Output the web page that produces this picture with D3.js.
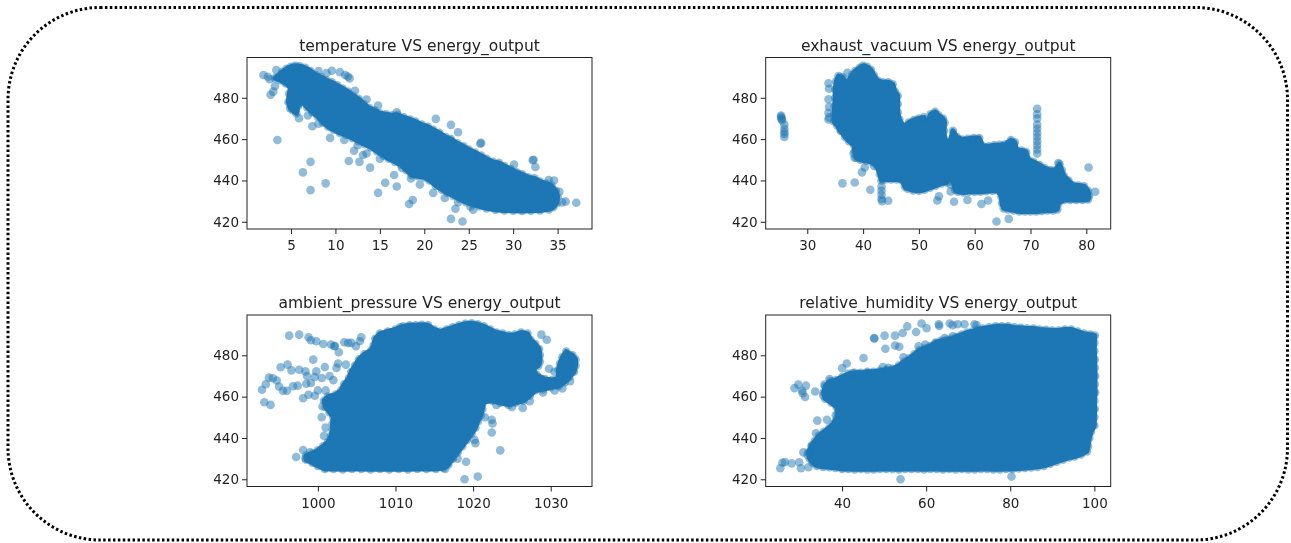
<!DOCTYPE html>
<html>
<head>
<meta charset="utf-8">
<script src="https://cdn.jsdelivr.net/npm/d3@7"></script>
<style>
body { margin: 0; background: white; }
svg { display: block; }
text { font-family: "DejaVu Sans", sans-serif; fill: #222; }
</style>
</head>
<body>
<script>
var titles = ["temperature VS energy_output", "exhaust_vacuum VS energy_output", "ambient_pressure VS energy_output", "relative_humidity VS energy_output"];
var energyDomain = [416.5, 499.5];
var energyTicks = [420, 440, 460, 480];
var tempDomain = [0.05, 38.87];
var tempTicks = [5, 10, 15, 20, 25, 30, 35];
var vacuumDomain = [22.55, 84.37];
var vacuumTicks = [30, 40, 50, 60, 70, 80];
var pressureDomain = [990.87, 1035.32];
var pressureTicks = [1000, 1010, 1020, 1030];
var humidityDomain = [21.83, 103.89];
var humidityTicks = [40, 60, 80, 100];

// points around the rim of each saturated area, in order: the inside of the ring
// is filled solid because single points can't be told apart there
var tempRim = [[4,492.5],[4.5,494],[5,495],[5.5,495.5],[6,495.3],[6.6,494.5],[7.2,493],[7.8,491],[8.4,490],[9,488.5],[9.6,487.5],[10.2,486],[10.8,484.5],[11.4,483],[12,481],[12.6,479.5],[13.2,477],[13.8,475],[14.4,474],[15,472.5],[15.7,472],[16.4,471.5],[17,471.8],[17.7,470.5],[18.4,469.5],[19,468.5],[19.7,467],[20.4,466],[21,464.5],[21.7,463],[22.4,461],[23,460],[23.7,458],[24.4,456.5],[25,455],[25.7,453.5],[26.4,452],[27,450.5],[27.7,449],[28.4,448.5],[29,447],[29.7,445.5],[30.4,444],[31,443],[31.7,441.5],[32.4,441],[33,439.5],[33.7,438.5],[34.3,437.5],[34.8,435],[35,432],[34.9,429],[34.5,427],[34,426],[33,425.5],[32,425.3],[31,425.2],[30,425.3],[29,425.5],[28,425.8],[27,426.5],[26.2,427.5],[25.4,428.5],[24.7,429.5],[24,431],[23.3,432.5],[22.6,434],[22,435.5],[21.3,437.5],[20.6,440],[20,441.5],[19.3,442],[18.6,442.5],[18,445],[17.4,447.5],[16.7,449],[16,450.5],[15.4,452],[14.7,454],[14,456],[13.3,457.5],[12.6,459],[11.9,460.5],[11.2,462],[10.5,463],[9.8,464.5],[9.2,466],[8.6,468],[8,471],[7.4,473],[6.8,475.5],[6.3,478],[5.8,476],[5.6,472.5],[5.2,474],[4.9,475],[4.7,478],[4.8,482],[5,485],[4.4,487],[3.8,488.5],[3.2,489.5]];
var vacuumRim = [[34.8,468.5],[34.8,472],[34.9,476],[35,480],[35,484],[35.2,488],[35.6,490.5],[36.3,490],[36.9,487],[37.5,488.5],[38,491],[38.6,493],[39.4,494.5],[40,495.5],[40.7,495],[41.4,493.5],[41.9,491],[42.5,488.5],[43.5,487.5],[44.5,487.5],[45.3,486.5],[45.7,483],[46.2,481],[46.2,477],[46.2,473],[46.5,469.5],[47.3,466],[48.2,468],[49.1,469.2],[50,470],[50.9,470.5],[51.5,467],[52.1,472],[52.9,473.2],[53.5,471.5],[54.3,470],[54.6,468],[54.5,464],[54.6,460],[55.5,458],[56.1,464],[56.8,461],[57.7,459.8],[58.8,460.2],[59.8,460.5],[60.8,460.5],[61.5,456.5],[62.5,456.5],[63.5,457],[64.5,457.2],[65.5,457.5],[66.5,459.5],[67.2,458.5],[67.5,454.5],[68.4,454.5],[69.2,453.8],[69.6,450],[70.5,449],[71.6,447.5],[72.5,446],[73.5,445],[74.5,445],[75.2,447.8],[75.6,445],[76,442],[76.8,440],[77.6,437.8],[78.6,437.5],[79.6,437.2],[80.3,435],[80.5,432.5],[80.3,430.8],[79.3,430.5],[78.2,430.6],[77.1,430.5],[76,430.5],[75,429],[74.8,426],[74,425.5],[73,425.5],[72,425.2],[71,425],[70,425],[69,425],[68,425],[67,425.5],[66,426],[65.2,426.5],[64.9,429],[64.8,432],[64.2,435],[63.2,435],[62,434.8],[61,434.5],[60,434.5],[59,434.5],[58,434.2],[57,434.5],[56.5,435.5],[56.2,439],[55.5,442],[55,439],[54,438.5],[53,437.5],[52,436.5],[51,435.5],[50,435],[49,435.2],[48,436],[47.5,437],[47,440],[46,440.5],[45,440.5],[44,440.5],[43.3,440],[43,443],[42.6,446.5],[41.5,449],[40.5,449.5],[39.5,450],[38.8,451],[38.5,454],[38.4,457],[37.5,459],[36.8,461],[36,464],[35.4,466.5]];
var pressureRim = [[998.5,431.5],[999.3,432.5],[1000,434],[1000.7,436],[1001.3,438],[1001.7,441],[1001.9,444],[1001.9,447],[1002,450],[1001.5,452.5],[1001,455],[1000.8,458],[1001.3,460],[1002.3,461],[1003,463],[1003.4,466],[1004,469],[1004.3,472],[1004.8,475],[1005.3,478],[1006,480.5],[1006.9,482.5],[1007.2,485],[1007.4,488],[1008,490.5],[1009,491.5],[1010,492.5],[1010.6,493.5],[1011,494],[1011.8,494.5],[1012.6,494.5],[1013.4,494.8],[1014.2,494.5],[1015,492.5],[1015.8,491.5],[1016.6,492.5],[1017.4,493.5],[1018.2,494.5],[1019,495.3],[1019.8,495.5],[1020.6,495],[1021.4,494],[1022.2,492.5],[1023,491],[1023.8,490.5],[1024.6,489.7],[1025.4,490],[1026.2,491],[1027,490.5],[1027.4,487.5],[1028,485.5],[1028.5,483],[1028.6,480],[1028.6,477],[1028.4,475],[1027.7,473.5],[1028.2,470.5],[1029.2,468.5],[1030.2,468],[1031,469],[1031,473],[1031.2,476],[1031.5,479],[1032,481.8],[1032.8,480],[1033.2,478],[1033.2,475],[1033,472],[1032.4,469.5],[1031.8,467],[1031,465],[1030,464.5],[1029,463.5],[1028,463],[1027.3,460.5],[1026.5,458],[1025.5,457],[1024.6,456],[1023.5,457],[1022.5,458],[1021.4,457.5],[1021.2,454],[1021,451],[1020.6,448],[1020.3,445],[1019.8,442],[1019.2,439],[1018.6,436],[1018,433],[1017.4,430],[1016.8,427],[1016.2,425.5],[1015.2,425],[1014,425],[1012.8,425],[1011.6,424.8],[1010.4,425],[1009.2,424.8],[1008,425],[1006.8,424.8],[1005.6,425],[1004.4,425],[1003.2,424.8],[1002,425],[1000.9,425],[1000,426.5],[999.3,428],[998.5,429.5]];
var humidityRim = [[32,433],[32.7,436],[33.5,438.5],[34.5,441],[35.7,443],[37,445],[38,447],[38.8,449.5],[39,452],[38.7,455],[37.5,457],[36,459],[35.6,462],[36,465],[37.2,467.5],[38.5,468],[40,469.5],[41.5,471],[43,471.5],[44.5,471.5],[46,472],[47.5,472],[49,472.5],[50.5,473],[52,473.5],[53.5,475],[54.8,477],[56,478.5],[57.2,480.5],[58.4,482.5],[59.8,483.5],[61,484.5],[62.2,486],[63.5,487],[64.8,487.5],[66,488],[67.2,489],[68.5,490],[69.8,491],[71,491.5],[72.2,492.5],[73.5,493],[75,493.5],[76.5,494],[78,494],[79.5,494],[81,493.5],[82.5,493.3],[84,493],[85.5,493],[87,492.5],[88.5,492.3],[90,492],[91.5,492],[93,492.5],[94.5,492.5],[96,491.5],[97.5,490.5],[99,490],[100.1,489.5],[100,486],[100,482],[100.1,478],[100.1,474],[100.2,470],[100.1,466],[100.2,462],[100,458],[100.1,454],[100,450],[100,446],[99.2,443],[98.8,440],[98.5,436],[98.2,433.5],[96.8,432],[95.3,431],[94,430.5],[92.5,429.5],[91,428.5],[89.5,427.5],[88,426.5],[86.5,426],[85,425.7],[83.5,425.5],[82,425.2],[80.5,425],[79,425],[77.5,424.8],[76,424.8],[74.5,425],[73,425],[71.5,424.8],[70,424.8],[68.5,425],[67,424.8],[65.5,425],[64,424.8],[62.5,425],[61,425],[59.5,424.8],[58,425],[56.5,425],[55,425],[53.5,424.8],[52,425],[50.5,425],[49,425],[47.5,424.8],[46,424.8],[44.5,425],[43,424.8],[41.5,425],[40,425],[38.5,425.5],[37,425.8],[35.5,426],[34,426.5],[33,428],[32.3,430]];

// points standing apart from those areas
var tempPoints = [[1.9,491],[2.4,490.2],[3.35,493.4],[2.7,481.5],[3,483],[3.2,485.6],[2.6,489],[3.47,459.6],[6.34,443.9],[7.2,449],[7.2,435.3],[8.9,438.6],[5.9,470.1],[6.9,471.4],[7.4,466.2],[8.1,467.5],[9.4,460.6],[11,459.6],[11.5,449.4],[12.1,454.4],[12.7,449],[13.1,452.3],[13.9,446.2],[14.8,434],[15.6,438.9],[16.6,442.6],[16.9,437.1],[18.3,428.6],[18.7,430.5],[23,421.4],[23.5,426.3],[24.3,420.1],[23,466.9],[23.8,463.3],[21.3,469.8],[26.4,458.2],[26.3,457.8],[32.3,450],[32.2,449.8],[32.5,446.5],[37.1,429.2],[35.9,429.8],[35.5,429.4],[35.2,434.5],[34.6,440],[34,440.2],[10.5,492.4],[9.6,493.1],[11.1,491],[11.6,489.4],[11.4,490.3],[9,492],[8.1,493],[12.2,483.4],[13.5,479.2],[14.8,476.3],[16.9,473],[30.1,447.7],[12.5,457],[13.5,453],[15,450.5],[17.5,446],[18.5,441],[19.5,438],[21,434],[22.3,431.5],[23.8,429.5],[25.2,427.3],[25.5,425.8]];
var vacuumPoints = [[25.3,471.4],[25.3,470.8],[25.4,470.2],[25.4,469.6],[25.5,469],[25.9,467],[25.9,465],[25.9,463.5],[25.9,462.5],[25.9,461],[33.8,487],[33.9,484.4],[33.8,479.3],[33.9,475.6],[33.8,472.7],[33.9,470.5],[33.8,469.5],[37.2,492.1],[71.2,474.7],[71.2,472],[71.2,470],[71.2,467],[71.2,465],[71.2,463],[71.2,461],[71.2,459],[71.2,457],[71.2,455],[71.2,453],[43.3,437],[43.3,435],[43.3,433],[43.3,431],[43.4,430],[44.5,430.2],[80.4,446.3],[81.6,434.5],[63.9,420.1],[66.1,421.4],[36.3,438.6],[38.5,439],[41.3,435.5],[39.8,443.9],[40.3,446.3],[53.3,430.3],[53.6,432.3],[56.3,429.7],[58.7,430.5],[61.2,428.6],[62.4,430.3],[55.7,438],[55.7,434.7],[75,448.4],[36,464.5],[37,462],[38.3,453],[38.5,451],[42,447]];
var pressurePoints = [[996.3,489.5],[997.6,490],[998.8,488.7],[999.1,487.3],[999.8,486.8],[1000.7,485.5],[1001.7,485.2],[1002.1,484.4],[1002.7,481.5],[1003.4,486.3],[1004.3,486],[1004.9,484.4],[1005.6,488.7],[1005.4,486.8],[1003.9,486],[1002.2,484.5],[999.4,477.9],[995.2,474.2],[996.1,475.5],[996.6,472.7],[997.6,473],[998.4,472.2],[998.6,470],[999.8,472.2],[1000.9,474.3],[1002.4,473.9],[1002.6,476],[1003.6,475.5],[1001.5,470],[1000.5,469],[1002,468],[992.8,463.3],[993.3,466],[993.7,469.2],[994.2,468.9],[994.7,467.8],[995,464.9],[995.5,462.8],[996,462.8],[996.8,465],[997.4,465.3],[998.5,466.2],[999.1,466.6],[999.6,469.5],[993.1,457.3],[993.9,456],[998.1,459.2],[998.8,460.9],[999.6,460.4],[1000.6,455.2],[1001,463],[1000,463],[1000.5,450],[1001,445],[1000.8,441],[997.2,430.8],[998.1,434.2],[998.4,430.2],[999,433],[1018.9,420],[1020.6,421.3],[1019.1,428.5],[1023.5,434],[1022.4,442.6],[1022.5,447],[1022.4,448.8],[1020.3,437.5],[1020.2,439],[1016.4,425],[1018,430],[1021.5,450],[1023,456],[1025,455],[1026.4,454.5],[1027.3,457.8],[1029,462],[1030.5,463],[1031.5,464],[1032,468.5],[1029.5,487.5],[1028.8,490],[1029.8,473.5],[1030.5,472],[1029.5,466],[1028.7,466.5],[1032.5,467.5]];
var humidityPoints = [[25.3,425.3],[25.8,428],[26.4,428.3],[28,427.7],[29.8,428.2],[30.2,425.3],[32,425.8],[28.7,464.1],[29.6,465.8],[30.5,462.8],[31.4,465.3],[31.2,459.8],[30.6,461.7],[33.6,462.5],[34.1,448.4],[30.8,433],[31.8,431.8],[32.9,436.6],[33.8,442.3],[36.4,448.8],[35.8,465.8],[37,468.5],[36.2,460.9],[35.5,460.5],[38,466],[38.5,463],[39,460],[39.5,456],[38.5,451],[38.5,448],[45.1,478.7],[47.6,488.3],[47.7,488.1],[50.1,489.5],[52.6,489.5],[54.4,490.8],[55.5,494],[57.6,491.3],[58.9,495.4],[60.1,493.1],[50.3,483.2],[52.6,484.7],[53.6,484.1],[54.6,479],[58.2,484.4],[59.8,485.2],[63,495],[63.1,494.2],[65.6,495.4],[67.5,495],[66.3,494.5],[69.1,495],[71.5,495],[72,494.5],[64.4,488.4],[66.3,489.2],[62.4,486],[53.9,420],[80.3,421.3],[41.1,476],[40,473.7],[42.5,471.4],[44,471],[46.1,471.4],[49.7,474.3],[51,474]];

var width = 1291;
var height = 543;
var panelW = 345;
var panelH = 171.5;
var panels = [
    { left: 247, top: 57.5, xDomain: tempDomain, xTicks: tempTicks, rim: tempRim, points: tempPoints },
    { left: 765.7, top: 57.5, xDomain: vacuumDomain, xTicks: vacuumTicks, rim: vacuumRim, points: vacuumPoints },
    { left: 247, top: 315, xDomain: pressureDomain, xTicks: pressureTicks, rim: pressureRim, points: pressurePoints },
    { left: 765.7, top: 315, xDomain: humidityDomain, xTicks: humidityTicks, rim: humidityRim, points: humidityPoints }
];

var svg = d3.select("body").append("svg").attr("width", width).attr("height", height);

// the reference is a resampled screenshot, so the chart part is a little soft
svg.append("defs").append("filter")
    .attr("id", "soft")
    .attr("x", "-5%").attr("y", "-5%").attr("width", "110%").attr("height", "110%")
    .append("feGaussianBlur")
    .attr("stdDeviation", 0.4);

svg.append("rect")
    .attr("x", 8)
    .attr("y", 7.5)
    .attr("width", 1279.5)
    .attr("height", 532.5)
    .attr("rx", 92)
    .attr("fill", "white")
    .attr("stroke", "black")
    .attr("stroke-width", 3)
    .attr("stroke-dasharray", "2.5 2.4");

var y = d3.scaleLinear().domain(energyDomain).range([panelH, 0]);

panels.forEach(function (p, i) {
    var x = d3.scaleLinear().domain(p.xDomain).range([0, panelW]);
    var g = svg.append("g")
        .attr("transform", `translate(${p.left},${p.top})`)
        .attr("filter", "url(#soft)");

    var line = d3.line().x(d => x(d[0])).y(d => y(d[1])).curve(d3.curveLinearClosed);
    g.append("path")
        .attr("d", line(p.rim))
        .attr("fill", "#1f77b4")
        .attr("stroke", "#1f77b4")
        .attr("stroke-width", 5)
        .attr("stroke-linejoin", "round");

    g.selectAll("circle")
        .data(p.rim.concat(p.points))
        .join("circle")
        .attr("cx", d => x(d[0]))
        .attr("cy", d => y(d[1]))
        .attr("r", 4.3)
        .attr("fill", "#1f77b4")
        .attr("fill-opacity", 0.5);

    g.append("rect")
        .attr("width", panelW)
        .attr("height", panelH)
        .attr("fill", "none")
        .attr("stroke", "#222")
        .attr("stroke-width", 1);

    var xAxis = g.append("g")
        .attr("transform", `translate(0,${panelH})`)
        .call(d3.axisBottom(x).tickValues(p.xTicks).tickFormat(d3.format("d")).tickSize(5).tickSizeOuter(0).tickPadding(6.5));
    var yAxis = g.append("g")
        .call(d3.axisLeft(y).tickValues(energyTicks).tickFormat(d3.format("d")).tickSize(5).tickSizeOuter(0).tickPadding(3));
    [xAxis, yAxis].forEach(function (a) {
        a.select(".domain").remove();
        a.selectAll("line").attr("stroke", "#222");
        a.selectAll("text").style("font-size", "13.5px").attr("fill", "#222");
        a.attr("font-family", null);
    });

    g.append("text")
        .attr("x", panelW / 2)
        .attr("y", -7)
        .attr("text-anchor", "middle")
        .style("font-size", "15.5px")
        .text(titles[i]);
});
</script>
</body>
</html>
